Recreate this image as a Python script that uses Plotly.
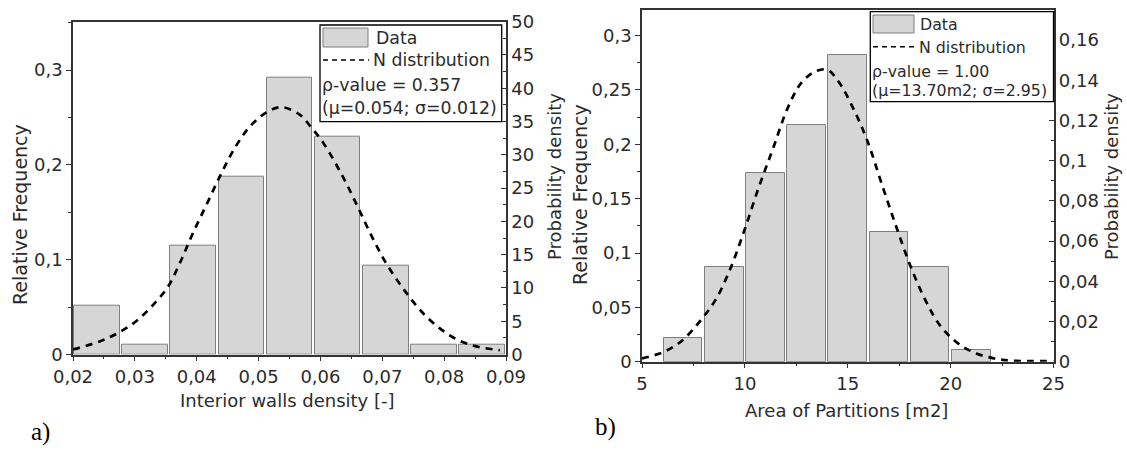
import plotly.graph_objects as go

# ---------------- data ----------------
# (a) interior walls density: histogram bins and relative frequencies
wall_bin_edges = [0.02, 0.02778, 0.03556, 0.04333, 0.05111, 0.05889, 0.06667, 0.07444, 0.08222, 0.09]
wall_rel_freq = [0.052, 0.0104, 0.1146, 0.1875, 0.2917, 0.2292, 0.0938, 0.0104, 0.0104]
# fitted normal density (right axis)
wall_pdf_x = [0.020, 0.0244, 0.0273, 0.0302, 0.0330, 0.0354, 0.0374, 0.0394, 0.0417, 0.0440,
              0.0463, 0.0486, 0.0515, 0.0538, 0.0567, 0.0584, 0.0605, 0.0636, 0.0660, 0.0683,
              0.0706, 0.0735, 0.0763, 0.0792, 0.0821, 0.0850, 0.0890]
wall_pdf_y = [0.75, 2.0, 3.25, 5.0, 7.5, 10.25, 14.0, 18.25, 22.75, 27.25,
              31.25, 34.25, 36.5, 37.15, 36.0, 34.25, 31.75, 26.75, 22.25, 17.75,
              13.75, 9.75, 6.5, 4.0, 2.25, 1.25, 0.65]

# (b) area of partitions: histogram bins and relative frequencies
area_bin_edges = [6, 8, 10, 12, 14, 16, 18, 20, 22]
area_rel_freq = [0.0217, 0.087, 0.1739, 0.2174, 0.2826, 0.1196, 0.087, 0.0109]
area_pdf_x = [5.0, 6.09, 6.97, 7.85, 8.56, 9.26, 9.97, 10.67, 11.38, 12.08, 12.79, 13.49, 14.02,
              14.55, 15.26, 15.96, 16.66, 17.37, 18.07, 18.78, 19.48, 20.36, 21.25, 22.13, 23.0, 25.0]
area_pdf_y = [0.0016, 0.005, 0.0107, 0.0206, 0.0305, 0.0454, 0.0652, 0.0866, 0.1064, 0.1262,
              0.1394, 0.1447, 0.1452, 0.1394, 0.1262, 0.1097, 0.0882, 0.0668, 0.047, 0.0305,
              0.0181, 0.0091, 0.0041, 0.0016, 0.0005, 0.0003]

legend_a = ["Data", "N distribution", "ρ-value = 0.357", "(μ=0.054; σ=0.012)"]
legend_b = ["Data", "N distribution", "ρ-value = 1.00", "(μ=13.70m2; σ=2.95)"]

# ---------------- styling ----------------
W, H = 1127, 450
FONT = "DejaVu Sans, Liberation Sans, Arial, sans-serif"
SERIF = "Liberation Serif, Times New Roman, serif"
TXT = "#2b2b2b"
AX = "#333333"
BAR_FILL = "#d6d6d6"
BAR_LINE = "#7f7f7f"


def fx(px):
    return px / W


def fy(py):
    return 1 - py / H


def centers(edges):
    return [(a + b) / 2 for a, b in zip(edges[:-1], edges[1:])]


def widths(edges, frac):
    return [(b - a) * frac for a, b in zip(edges[:-1], edges[1:])]


fig = go.Figure()

fig.add_trace(go.Bar(x=centers(wall_bin_edges), y=wall_rel_freq, width=widths(wall_bin_edges, 0.95),
                     marker=dict(color=BAR_FILL, line=dict(color=BAR_LINE, width=1)),
                     xaxis="x", yaxis="y", name="Data"))
fig.add_trace(go.Scatter(x=wall_pdf_x, y=wall_pdf_y, mode="lines",
                         line=dict(color="black", width=2.7, dash="7px,6px", shape="spline"),
                         xaxis="x", yaxis="y2", name="N distribution"))

fig.add_trace(go.Bar(x=centers(area_bin_edges), y=area_rel_freq, width=widths(area_bin_edges, 0.94),
                     marker=dict(color=BAR_FILL, line=dict(color=BAR_LINE, width=1)),
                     xaxis="x2", yaxis="y3", name="Data"))
fig.add_trace(go.Scatter(x=area_pdf_x, y=area_pdf_y, mode="lines",
                         line=dict(color="black", width=2.7, dash="7px,6px", shape="spline"),
                         xaxis="x2", yaxis="y4", name="N distribution"))

tickfont = dict(family=FONT, size=18, color=TXT)


def xaxis(domain, rng, dtick, tick0, minor_dtick, anchor):
    return dict(domain=domain, range=rng, dtick=dtick, tick0=tick0, showgrid=False, zeroline=False,
                showline=True, linecolor=AX, linewidth=1.5, mirror=True, automargin=False, anchor=anchor,
                ticks="outside", ticklen=5, tickwidth=1.3, tickcolor=AX, tickfont=tickfont,
                minor=dict(ticks="outside", ticklen=3, tickwidth=1.2, tickcolor=AX, dtick=minor_dtick, tick0=tick0))


def yaxis(domain, rng, dtick, minor_dtick, anchor, side="left", overlaying=None):
    d = dict(range=rng, dtick=dtick, tick0=0, showgrid=False, zeroline=False, automargin=False,
             showline=True, linecolor=AX, linewidth=1.5, anchor=anchor, side=side,
             ticks="outside" if side == "left" else "inside", ticklen=5, tickwidth=1.3, tickcolor=AX,
             tickfont=tickfont,
             minor=dict(ticks="outside" if side == "left" else "inside", ticklen=3, tickwidth=1.2,
                        tickcolor=AX, dtick=minor_dtick, tick0=0))
    if overlaying:
        d["overlaying"] = overlaying
    else:
        d["domain"] = domain
    return d


a_dom_x = [fx(73), fx(506)]
a_dom_y = [fy(354.5), fy(21.7)]
b_dom_x = [fx(642), fx(1053.5)]
b_dom_y = [fy(361.7), fy(10)]

fig.update_layout(
    template="none",
    width=W, height=H, margin=dict(l=0, r=0, t=0, b=0, pad=0, autoexpand=False),
    paper_bgcolor="white", plot_bgcolor="white", showlegend=False,
    separators=", ", bargap=0,
    font=dict(family=FONT, color=TXT),
    xaxis=xaxis(a_dom_x, [0.02, 0.09], 0.01, 0.02, 0.005, "y"),
    yaxis=yaxis(a_dom_y, [0, 0.351], 0.1, 0.05, "x"),
    yaxis2=yaxis(None, [0, 50], 5, 2.5, "x", side="right", overlaying="y"),
    xaxis2=xaxis(b_dom_x, [5, 25], 5, 5, 2.5, "y3"),
    yaxis3=yaxis(b_dom_y, [0, 0.3236], 0.05, 0.025, "x2"),
    yaxis4=yaxis(None, [0, 0.175], 0.02, 0.01, "x2", side="right", overlaying="y3"),
)

shapes = []
annotations = []


def text(x, y, s, size=18, angle=0, anchor="center", family=FONT, color=TXT):
    annotations.append(dict(x=fx(x), y=fy(y), xref="paper", yref="paper", text=s, showarrow=False,
                            textangle=angle, xanchor=anchor, yanchor="middle",
                            font=dict(family=family, size=size, color=color)))


def legend_box(box, patch, dash_line, text_x, rows_y, labels, size):
    x0, x1, y0, y1 = box
    shapes.append(dict(type="rect", xref="paper", yref="paper", x0=fx(x0), x1=fx(x1), y0=fy(y1), y1=fy(y0),
                       line=dict(color="black", width=1.3), fillcolor="white", layer="above"))
    px0, px1, py0, py1 = patch
    shapes.append(dict(type="rect", xref="paper", yref="paper", x0=fx(px0), x1=fx(px1), y0=fy(py1), y1=fy(py0),
                       line=dict(color=BAR_LINE, width=1), fillcolor=BAR_FILL, layer="above"))
    lx0, lx1, ly = dash_line
    shapes.append(dict(type="line", xref="paper", yref="paper", x0=fx(lx0), x1=fx(lx1), y0=fy(ly), y1=fy(ly),
                       line=dict(color="black", width=1.5, dash="5px,4px"), layer="above"))
    for tx, ty, s in zip(text_x, rows_y, labels):
        text(tx, ty, s, size=size, anchor="left")


legend_box((320, 501.7, 25, 121.7), (323, 368, 28, 47), (323, 369, 60),
           [374, 371, 320, 320], [37.5, 60, 85, 108], legend_a, 17.3)
legend_box((870.3, 1053.5, 11.7, 101.7), (873, 914, 15, 33), (873, 916, 46.7),
           [918, 917, 870, 870], [24, 47, 71, 91], legend_b, 15.8)

# axis titles
text(20, 215, "Relative Frequency", size=19, angle=-90)
text(554, 177, "Probability density", angle=-90)
text(287.5, 400, "Interior walls density [-]")
text(580, 195, "Relative Frequency", size=19, angle=-90)
text(1111, 177, "Probability density", angle=-90)
text(846, 410, "Area of Partitions [m2]")

# panel labels
text(40, 432, "a)", size=25, family=SERIF, color="black")
text(605, 427, "b)", size=25, family=SERIF, color="black")

fig.update_layout(shapes=shapes, annotations=annotations)

fig.write_html("out.html")
